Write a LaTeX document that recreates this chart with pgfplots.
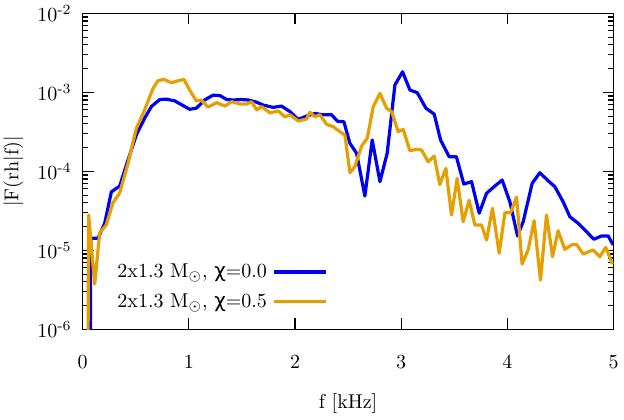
\documentclass[border=0pt]{standalone}
\usepackage{fontspec}
\usepackage{pgfplots}
\pgfplotsset{compat=1.18}
\newfontfamily\chifont{DejaVu Sans}
\definecolor{gpblue}{RGB}{0,0,245}
\definecolor{gporange}{RGB}{230,159,0}
\begin{document}
\begin{tikzpicture}
\begin{axis}[
  scale only axis,
  width=265.4pt, height=158pt,
  xmin=0, xmax=5,
  ymode=log, ymin=1e-6, ymax=1e-2,
  xtick={0,1,2,3,4,5},
  ytick={1e-6,1e-5,1e-4,1e-3,1e-2},
  yticklabels={10\textsuperscript{-6},10\textsuperscript{-5},10\textsuperscript{-4},10\textsuperscript{-3},10\textsuperscript{-2}},
  tick align=inside,
  major tick length=5.5pt,
  minor tick length=2.7pt,
  axis line style={line width=0.65pt},
  every tick/.style={black, line width=0.6pt},
  xticklabel style={yshift=-9.5pt},
  yticklabel style={xshift=-2pt},
  xlabel={f [kHz]},
  ylabel={|F(rh|f)|},
  xlabel style={at={(axis description cs:0.5,-0.2335)}, anchor=center},
  ylabel style={at={(axis description cs:-0.1307,0.5)}, anchor=center},
  legend plot pos=right,
  legend cell align=right,
  legend style={at={(0.462,0.044)}, anchor=south east, draw=none, fill=none,
    inner sep=0pt, row sep=1.5pt, column sep=0pt,
    nodes={inner sep=2.5pt}},
  legend image code/.code={\draw[#1] (0cm,0cm) -- (0.92cm,0cm);},
]
\coordinate (bl) at (rel axis cs:0,0);
\addplot[gpblue, line width=1.6pt, line join=round] coordinates {
(0.072,1e-8) (0.075,1.42e-5) (0.144,1.42e-5) (0.207,2.2e-5) (0.27,5.5e-5)
(0.348,6.5e-5) (0.427,1.39e-4) (0.505,2.88e-4) (0.583,4.69e-4) (0.646,6.58e-4)
(0.725,8.1e-4) (0.788,8.2e-4) (0.866,7.8e-4) (0.929,7.0e-4) (1.007,6.1e-4)
(1.07,6.3e-4) (1.149,8.0e-4) (1.227,9.2e-4) (1.293,9.1e-4) (1.356,8.1e-4)
(1.418,8.0e-4) (1.497,8.1e-4) (1.56,8.0e-4) (1.638,7.5e-4) (1.70,6.9e-4)
(1.795,6.45e-4) (1.873,6.7e-4) (1.952,5.7e-4) (2.03,4.55e-4) (2.109,5.0e-4)
(2.187,5.4e-4) (2.266,5.2e-4) (2.344,5.2e-4) (2.40,4.3e-4) (2.46,4.25e-4)
(2.517,2.26e-4) (2.58,1.69e-4) (2.658,4.87e-5) (2.727,2.49e-4) (2.80,7.4e-5)
(2.868,1.69e-4) (2.941,1.24e-3) (3.013,1.82e-3) (3.082,1.07e-3) (3.151,9.9e-4)
(3.233,6.3e-4) (3.311,5.3e-4) (3.371,2.49e-4) (3.452,1.53e-4) (3.52,1.53e-4)
(3.59,6.9e-5) (3.663,7.4e-5) (3.735,2.95e-5) (3.804,5.27e-5) (3.882,6.5e-5)
(3.951,7.76e-5) (4.024,4.1e-5) (4.096,1.52e-5) (4.149,2.3e-5) (4.234,7.05e-5)
(4.306,9.6e-5) (4.384,7.6e-5) (4.447,6.4e-5) (4.526,4.1e-5) (4.589,2.66e-5)
(4.667,2.2e-5) (4.746,1.72e-5) (4.815,1.38e-5) (4.887,1.52e-5) (4.95,1.52e-5)
(4.997,1.17e-5)
};
\addlegendentry{2x1.3 $\mathrm{M}_\odot$, {\chifont χ}=0.0}
\addplot[gporange, line width=1.6pt, line join=round] coordinates {
(0.044,1e-8) (0.056,2.8e-5) (0.113,3.74e-6) (0.16,1.67e-5) (0.222,2.09e-5)
(0.285,4.0e-5) (0.348,5.3e-5) (0.427,1.26e-4) (0.505,3.5e-4) (0.583,5.97e-4)
(0.662,1.12e-3) (0.709,1.40e-3) (0.766,1.46e-3) (0.834,1.32e-3) (0.897,1.40e-3)
(0.954,1.46e-3) (1.007,1.07e-3) (1.07,7.8e-4) (1.117,8.0e-4) (1.18,6.5e-4)
(1.262,7.4e-4) (1.34,6.7e-4) (1.403,7.6e-4) (1.481,7.1e-4) (1.544,7.1e-4)
(1.591,7.6e-4) (1.638,6.0e-4) (1.685,6.6e-4) (1.764,5.5e-4) (1.842,5.8e-4)
(1.905,4.9e-4) (1.952,5.2e-4) (2.03,4.33e-4) (2.109,4.6e-4) (2.14,5.6e-4)
(2.187,4.9e-4) (2.234,5.2e-4) (2.297,3.94e-4) (2.36,3.67e-4) (2.423,3.17e-4)
(2.47,2.88e-4) (2.517,9.6e-5) (2.564,1.15e-4) (2.627,2.09e-4) (2.68,2.62e-4)
(2.737,6.6e-4) (2.80,9.7e-4) (2.862,6.3e-4) (2.91,5.7e-4) (2.972,3.17e-4)
(3.019,3.4e-4) (3.082,1.82e-4) (3.145,1.9e-4) (3.192,1.86e-4) (3.254,1.32e-4)
(3.311,1.56e-4) (3.364,6.8e-5) (3.421,1.09e-4) (3.474,2.8e-5) (3.527,8.1e-5)
(3.584,2.3e-5) (3.64,4.3e-5) (3.694,2.09e-5) (3.757,2.09e-5) (3.804,1.35e-5)
(3.86,3.4e-5) (3.923,9.2e-6) (3.977,2.99e-5) (4.03,2.99e-5) (4.087,4.7e-5)
(4.139,6.7e-6) (4.196,1.01e-5) (4.252,2.37e-5) (4.312,4.2e-6) (4.369,2.8e-5)
(4.426,8.3e-6) (4.478,1.77e-5) (4.541,1.03e-5) (4.605,1.17e-5) (4.652,1.19e-5)
(4.714,9.0e-6) (4.808,1.01e-5) (4.871,8.3e-6) (4.927,1.09e-5) (4.99,6.7e-6)
};
\addlegendentry{2x1.3 $\mathrm{M}_\odot$, {\chifont χ}=0.5}
\end{axis}
\pgfresetboundingbox
\path ([shift={(-41.35pt,-44.85pt)}]bl) rectangle ([shift={(270.65pt,164.65pt)}]bl);
\end{tikzpicture}
\end{document}
